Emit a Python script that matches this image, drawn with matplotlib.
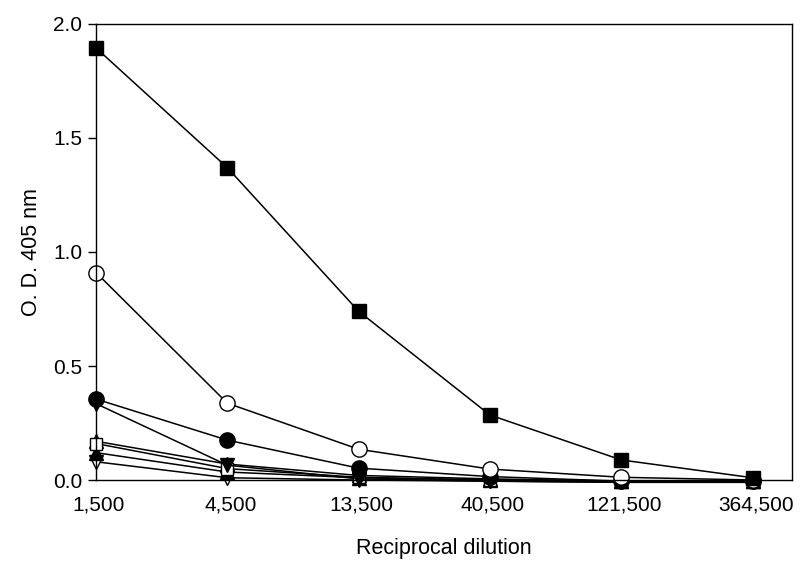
import numpy as np
import matplotlib
matplotlib.use("Agg")
import matplotlib.pyplot as plt
from matplotlib.transforms import ScaledTranslation

plt.rcParams['font.family'] = ['Liberation Sans', 'DejaVu Sans']

dilutions = ["1,500", "4,500", "13,500", "40,500", "121,500", "364,500"]

# O.D. 405 nm, one list per serum
filled_square = [1.895, 1.37, 0.74, 0.285, 0.088, 0.01]
open_circle = [0.91, 0.337, 0.135, 0.048, 0.012, 0.0]
filled_circle = [0.355, 0.175, 0.052, 0.015, -0.005, -0.005]
filled_down = [0.335, 0.065, 0.005, -0.005, -0.01, -0.01]
open_square = [0.16, 0.05, 0.012, 0.0, -0.005, -0.005]
open_up = [0.17, 0.07, 0.02, 0.005, -0.005, -0.005]
filled_up = [0.12, 0.035, 0.01, 0.0, -0.005, -0.005]
open_down = [0.08, 0.01, 0.0, -0.005, -0.01, -0.01]

series = [
    (open_down, "v", "white", 10),
    (filled_up, "^", "black", 10),
    (open_up, "^", "white", 10),
    (open_square, "s", "white", 9),
    (filled_down, "v", "black", 10),
    (filled_circle, "o", "black", 11),
    (open_circle, "o", "white", 11),
    (filled_square, "s", "black", 9.5),
]

fig = plt.figure(figsize=(8, 5.63), dpi=100)
ax = fig.add_axes([0.12, 0.1474, 0.87, 0.81])

x = np.arange(len(dilutions))
for vals, mk, fc, ms in series:
    ax.plot(x, vals, "-", color="black", lw=1.1, marker=mk, ms=ms,
            mfc=fc, mec="black", mew=1.0, clip_on=False)

ax.set_xlim(0, 5.3)
ax.set_ylim(0, 2.0)
ax.set_xticks(x)
ax.set_xticklabels(dilutions)
ax.set_yticks([0.0, 0.5, 1.0, 1.5, 2.0])
ax.set_yticklabels(["0.0", "0.5", "1.0", "1.5", "2.0"])
ax.tick_params(axis="y", direction="out", length=6, width=1, labelsize=15, pad=4)
ax.tick_params(axis="x", length=0, labelsize=15, pad=11)
for s in ax.spines.values():
    s.set_linewidth(1.0)

# tick labels sit a touch right of the points in the original
shift = ScaledTranslation(3 / 100, 0, fig.dpi_scale_trans)
for lab in ax.get_xticklabels():
    lab.set_transform(lab.get_transform() + shift)

ax.set_xlabel("Reciprocal dilution", fontsize=15.5, labelpad=17)
ax.set_ylabel("O. D. 405 nm", fontsize=15.5, labelpad=8)

fig.savefig("out.png", dpi=100)
